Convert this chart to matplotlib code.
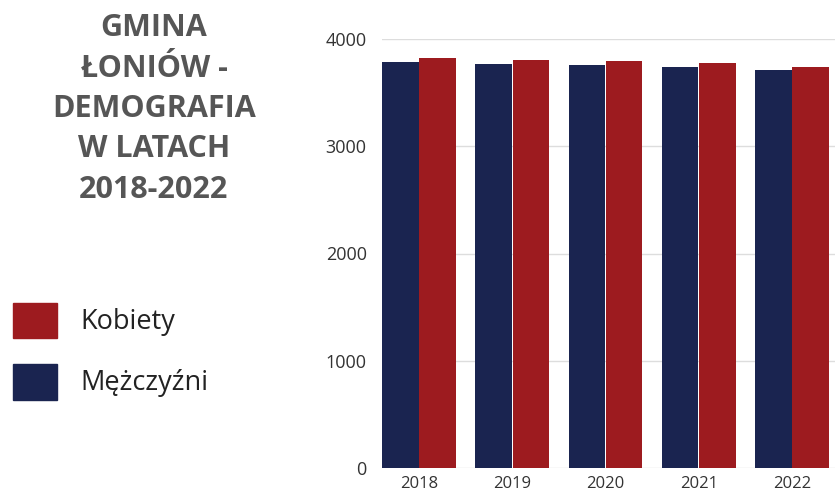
import matplotlib.pyplot as plt
import numpy as np
from matplotlib.patches import Rectangle

# data
years = ['2018', '2019', '2020', '2021', '2022']
mezczyzni = [3788, 3764, 3755, 3736, 3708]
kobiety = [3826, 3801, 3795, 3773, 3736]

navy = '#1a2450'
red = '#9d1b1f'

plt.rcParams['font.family'] = ['Open Sans', 'DejaVu Sans']

fig = plt.figure(figsize=(8.35, 4.93), dpi=100)
fig.patch.set_facecolor('white')

# chart cut off at the right edge, like in the original
ax = fig.add_axes([382/835, 25/493, 453/835, 429/493])
x = np.arange(len(years))
w = 0.392
ax.bar(x - 0.2, mezczyzni, w, color=navy, zorder=3)
ax.bar(x + 0.2, kobiety, w, color=red, zorder=3)

ax.set_xlim(-0.396, 4.46)
ax.set_ylim(0, 4000)
ax.set_yticks([0, 1000, 2000, 3000, 4000])
ax.set_xticks(x)
ax.set_xticklabels(years)
ax.grid(axis='y', color='#dddddd', linewidth=1, zorder=0)
for s in ax.spines.values():
    s.set_visible(False)
ax.tick_params(length=0, labelcolor='#333333')
ax.tick_params(axis='y', pad=11, labelsize=13)
ax.tick_params(axis='x', pad=6, labelsize=12)

# title on the left
fig.text(154/835, 1 - 109/493, 'GMINA\nŁONIÓW -\nDEMOGRAFIA\nW LATACH\n2018-2022',
         ha='center', va='center', fontsize=22, fontweight='bold',
         color='#565656', linespacing=1.45)

# legend drawn by hand
fig.add_artist(Rectangle((13/835, 1 - 338/493), 44/835, 35/493,
                         transform=fig.transFigure, color=red))
fig.add_artist(Rectangle((13/835, 1 - 400/493), 44/835, 36/493,
                         transform=fig.transFigure, color=navy))
fig.text(80/835, 1 - 322/493, 'Kobiety', ha='left', va='center',
         fontsize=19.5, color='#222222')
fig.text(80/835, 1 - 383/493, 'Mężczyźni', ha='left', va='center',
         fontsize=19.5, color='#222222')

fig.savefig('out.png', dpi=100)
